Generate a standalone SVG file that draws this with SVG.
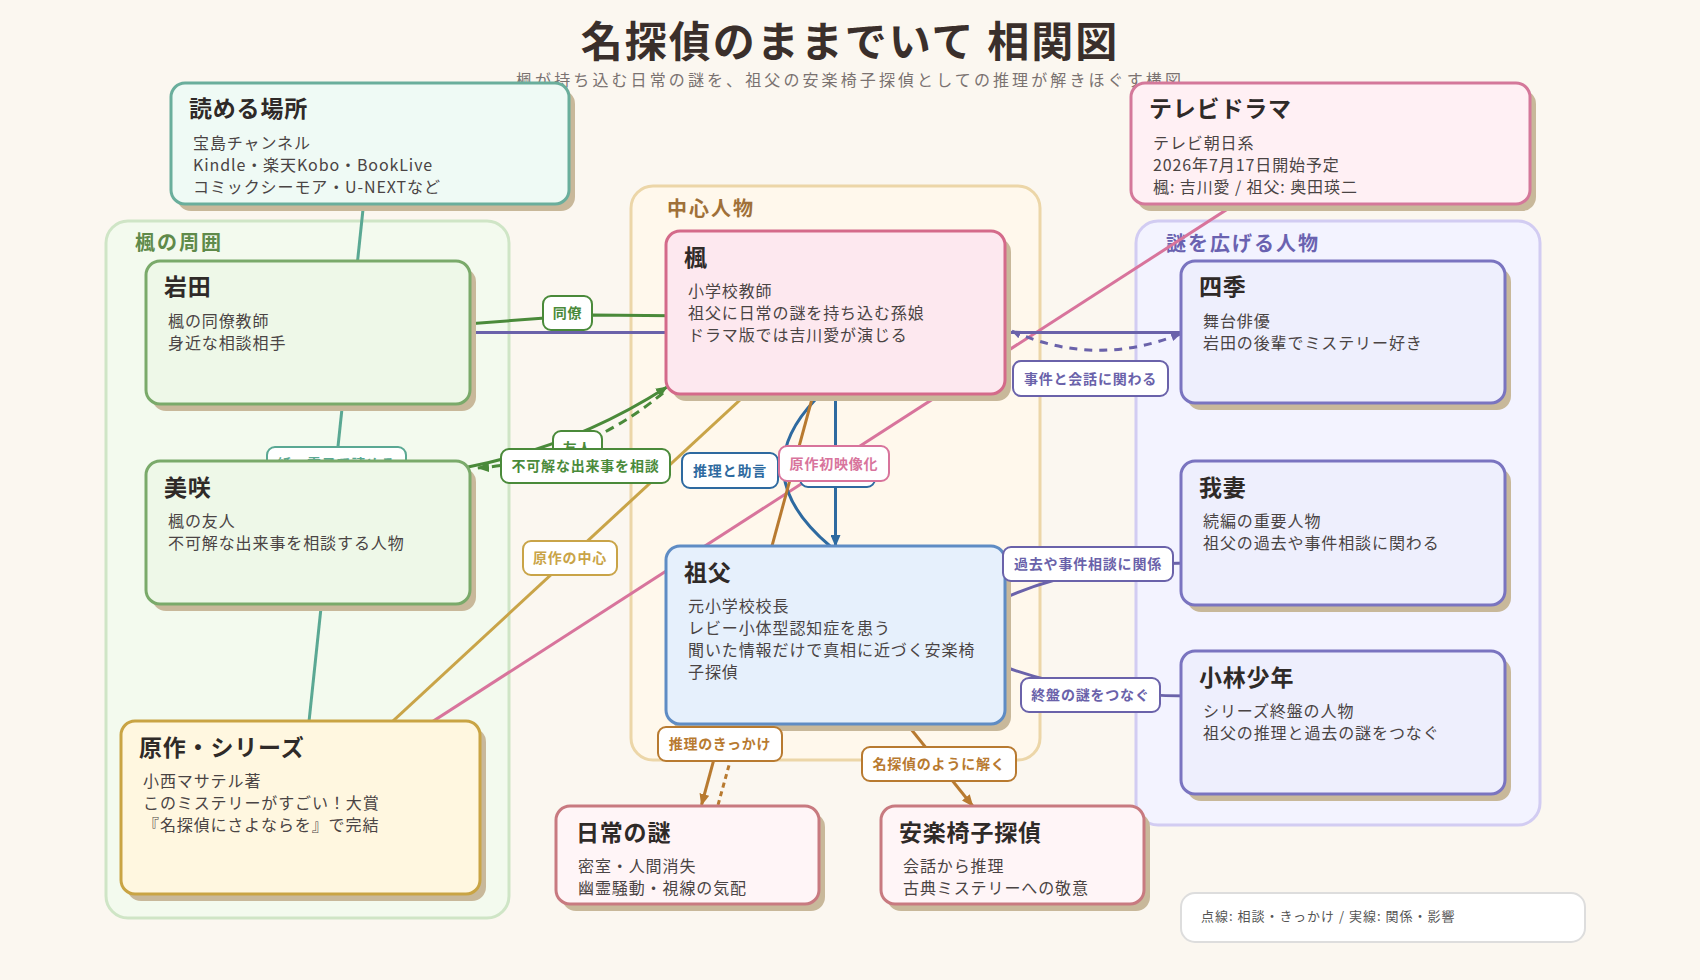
<svg xmlns="http://www.w3.org/2000/svg" width="1700" height="980" viewBox="0 0 1700 980">
<defs>
<style>
text{font-family:"Noto Sans CJK JP","Noto Sans",sans-serif}
.sh{fill:#c8b89a}
.nt{font-size:23px;font-weight:bold;letter-spacing:0.8px;fill:#2f2a28}
.nb{font-size:16px;letter-spacing:0.9px;fill:#4a4444}
.gl{font-size:20px;font-weight:bold;letter-spacing:2px}
.lb{font-size:14px;font-weight:bold;letter-spacing:0.8px;text-anchor:middle}
.lr{fill:#ffffff;stroke-width:2}
.e{fill:none;stroke-width:3}
</style>
<marker id="mg" viewBox="0 0 12 10" refX="11" refY="5" markerWidth="12" markerHeight="10" markerUnits="userSpaceOnUse" orient="auto"><path d="M0,0 L12,5 L0,10 z" fill="#4a8a3a"/></marker>
<marker id="mb" viewBox="0 0 12 10" refX="11" refY="5" markerWidth="12" markerHeight="10" markerUnits="userSpaceOnUse" orient="auto"><path d="M0,0 L12,5 L0,10 z" fill="#2e6aa0"/></marker>
<marker id="mo" viewBox="0 0 12 10" refX="11" refY="5" markerWidth="12" markerHeight="10" markerUnits="userSpaceOnUse" orient="auto"><path d="M0,0 L12,5 L0,10 z" fill="#b87a30"/></marker>
<marker id="mp" viewBox="0 0 12 10" refX="11" refY="5" markerWidth="10" markerHeight="8" markerUnits="userSpaceOnUse" orient="auto-start-reverse"><path d="M0,0 L12,5 L0,10 z" fill="#6a62aa"/></marker>
</defs>
<rect x="0" y="0" width="1700" height="980" fill="#fbf7f0"/>
<text x="850" y="57" text-anchor="middle" font-size="42" font-weight="bold" letter-spacing="2" fill="#3a2f2b">名探偵のままでいて 相関図</text>
<text x="850" y="86" text-anchor="middle" font-size="16" letter-spacing="3.1" fill="#7a7270">楓が持ち込む日常の謎を、祖父の安楽椅子探偵としての推理が解きほぐす構図</text>

<g id="group-kaede-around">
<rect x="106" y="221" width="403" height="697" rx="22" fill="#f3faee" stroke="#cfe5c6" stroke-width="3"/>
<text class="gl" x="135" y="250" fill="#5f8a4a">楓の周囲</text>
</g>
<g id="group-center">
<rect x="631" y="186" width="409" height="574" rx="22" fill="#fff8ec" stroke="#ecd6a8" stroke-width="3"/>
<text class="gl" x="667" y="215.5" fill="#a07038">中心人物</text>
</g>
<g id="group-mystery">
<rect x="1136" y="221" width="404" height="604" rx="22" fill="#f3f3ff" stroke="#d2ccf2" stroke-width="3"/>
<text class="gl" x="1166" y="250.5" fill="#6a62b0">謎を広げる人物</text>
</g>

<g id="connectors">
<path class="e" d="M370,143 L300,807" stroke="#5aa893"/>
<path class="e" d="M440,326 L545,318 L592,315 L700,316" stroke="#4a8a3a"/>
<path class="e" d="M468,467 Q575,446 667,387" stroke="#4a8a3a" marker-end="url(#mg)"/>
<path class="e" d="M663,393 Q582,460 478,468" stroke="#4a8a3a" stroke-dasharray="9 6" marker-end="url(#mg)"/>
<path class="e" d="M300,807 L835,312" stroke="#c9a448"/>
<path class="e" d="M1330,143 L300,807" stroke="#d8749c"/>
<path class="e" d="M308,332.5 L1181,332.5" stroke="#6a62aa"/>
<path class="e" d="M1012,331 Q1095,368 1180,334" stroke="#6a62aa" stroke-dasharray="8 7" marker-end="url(#mp)" marker-start="url(#mp)"/>
<path class="e" d="M835.5,394 L835.5,546" stroke="#2e6aa0" marker-end="url(#mb)"/>
<path class="e" d="M815,400 Q745,474 830,546" stroke="#2e6aa0"/>
<path class="e" d="M835.5,312.5 L701.5,805" stroke="#b87a30" marker-end="url(#mo)"/>
<path class="e" d="M741,722 L718,805" stroke="#b87a30" stroke-dasharray="5 4"/>
<path class="e" d="M835.5,635 L972.7,806" stroke="#b87a30" marker-end="url(#mo)"/>
<path class="e" d="M1000,600 Q1080,563 1190,563" stroke="#6a62aa"/>
<path class="e" d="M1000,665 Q1080,696 1190,696" stroke="#6a62aa"/>
<g id="label-read">
<rect class="lr" x="267" y="447" width="139" height="34" rx="8" stroke="#5aa893"/>
<text class="lb" x="336.5" y="469" fill="#5aa893">紙・電子で読める</text>
</g>
</g>

<g id="node-yomeru">
<rect class="sh" x="177" y="90" width="398" height="121" rx="14"/>
<rect x="171" y="83" width="398" height="121" rx="14" fill="#effaf5" stroke="#6aae9c" stroke-width="3"/>
<text class="nt" x="189" y="117">読める場所</text>
<text class="nb" x="193" y="148.5">宝島チャンネル</text>
<text class="nb" x="193" y="170.5">Kindle・楽天Kobo・BookLive</text>
<text class="nb" x="193" y="192.5">コミックシーモア・U-NEXTなど</text>
</g>
<g id="node-tvdrama">
<rect class="sh" x="1137" y="90" width="399" height="121" rx="14"/>
<rect x="1131" y="83" width="399" height="121" rx="14" fill="#fff0f4" stroke="#d4789a" stroke-width="3"/>
<text class="nt" x="1149" y="117">テレビドラマ</text>
<text class="nb" x="1153" y="148.5">テレビ朝日系</text>
<text class="nb" x="1153" y="170.5">2026年7月17日開始予定</text>
<text class="nb" x="1153" y="192.5">楓: 吉川愛 / 祖父: 奥田瑛二</text>
</g>
<g id="node-iwata">
<rect class="sh" x="152" y="268" width="324" height="143" rx="14"/>
<rect x="146" y="261" width="324" height="143" rx="14" fill="#eef8e8" stroke="#7aaa6a" stroke-width="3"/>
<text class="nt" x="164" y="295">岩田</text>
<text class="nb" x="168" y="327">楓の同僚教師</text>
<text class="nb" x="168" y="349">身近な相談相手</text>
</g>
<g id="node-misaki">
<rect class="sh" x="152" y="468" width="324" height="143" rx="14"/>
<rect x="146" y="461" width="324" height="143" rx="14" fill="#eef8e8" stroke="#7aaa6a" stroke-width="3"/>
<text class="nt" x="164" y="495.5">美咲</text>
<text class="nb" x="168" y="527">楓の友人</text>
<text class="nb" x="168" y="549">不可解な出来事を相談する人物</text>
</g>
<g id="node-gensaku">
<rect class="sh" x="127" y="728" width="359" height="173" rx="14"/>
<rect x="121" y="721" width="359" height="173" rx="14" fill="#fff7e0" stroke="#c9a444" stroke-width="3"/>
<text class="nt" x="139" y="755.5">原作・シリーズ</text>
<text class="nb" x="143" y="787">小西マサテル著</text>
<text class="nb" x="143" y="809">このミステリーがすごい！大賞</text>
<text class="nb" x="143" y="831">『名探偵にさよならを』で完結</text>
</g>
<g id="node-kaede">
<rect class="sh" x="672" y="238" width="339" height="163" rx="14"/>
<rect x="666" y="231" width="339" height="163" rx="14" fill="#fde8ef" stroke="#d46a8a" stroke-width="3"/>
<text class="nt" x="684" y="266">楓</text>
<text class="nb" x="688" y="297">小学校教師</text>
<text class="nb" x="688" y="319">祖父に日常の謎を持ち込む孫娘</text>
<text class="nb" x="688" y="341">ドラマ版では吉川愛が演じる</text>
</g>
<g id="node-sofu">
<rect class="sh" x="672" y="553" width="339" height="178" rx="14"/>
<rect x="666" y="546" width="339" height="178" rx="14" fill="#e6f0fc" stroke="#5f8cc4" stroke-width="3"/>
<text class="nt" x="684" y="581">祖父</text>
<text class="nb" x="688" y="612">元小学校校長</text>
<text class="nb" x="688" y="634">レビー小体型認知症を患う</text>
<text class="nb" x="688" y="656">聞いた情報だけで真相に近づく安楽椅</text>
<text class="nb" x="688" y="678">子探偵</text>
</g>
<g id="node-nichijou">
<rect class="sh" x="562" y="813" width="263" height="98" rx="14"/>
<rect x="556" y="806" width="263" height="98" rx="14" fill="#fff5f7" stroke="#c87a80" stroke-width="3"/>
<text class="nt" x="576" y="841">日常の謎</text>
<text class="nb" x="578" y="872">密室・人間消失</text>
<text class="nb" x="578" y="894">幽霊騒動・視線の気配</text>
</g>
<g id="node-anraku">
<rect class="sh" x="887" y="813" width="263" height="98" rx="14"/>
<rect x="881" y="806" width="263" height="98" rx="14" fill="#fff5f7" stroke="#c87a80" stroke-width="3"/>
<text class="nt" x="899" y="841">安楽椅子探偵</text>
<text class="nb" x="903" y="872">会話から推理</text>
<text class="nb" x="903" y="894">古典ミステリーへの敬意</text>
</g>
<g id="node-shiki">
<rect class="sh" x="1187" y="268" width="324" height="142" rx="14"/>
<rect x="1181" y="261" width="324" height="142" rx="14" fill="#eeeffd" stroke="#7a74c0" stroke-width="3"/>
<text class="nt" x="1199" y="294.5">四季</text>
<text class="nb" x="1203" y="327">舞台俳優</text>
<text class="nb" x="1203" y="349">岩田の後輩でミステリー好き</text>
</g>
<g id="node-wagatsuma">
<rect class="sh" x="1187" y="468" width="324" height="144" rx="14"/>
<rect x="1181" y="461" width="324" height="144" rx="14" fill="#eeeffd" stroke="#7a74c0" stroke-width="3"/>
<text class="nt" x="1199" y="496">我妻</text>
<text class="nb" x="1203" y="527">続編の重要人物</text>
<text class="nb" x="1203" y="549">祖父の過去や事件相談に関わる</text>
</g>
<g id="node-kobayashi">
<rect class="sh" x="1187" y="658" width="324" height="143" rx="14"/>
<rect x="1181" y="651" width="324" height="143" rx="14" fill="#eeeffd" stroke="#7a74c0" stroke-width="3"/>
<text class="nt" x="1199" y="686">小林少年</text>
<text class="nb" x="1203" y="717">シリーズ終盤の人物</text>
<text class="nb" x="1203" y="739">祖父の推理と過去の謎をつなぐ</text>
</g>

<g id="edge-labels">
<rect class="lr" x="543" y="296" width="49" height="34" rx="8" stroke="#4a8a3a"/>
<text class="lb" x="567.5" y="318" fill="#4a8a3a">同僚</text>
<rect class="lr" x="553" y="431" width="49" height="34" rx="8" stroke="#4a8a3a"/>
<text class="lb" x="577.5" y="453" fill="#4a8a3a">友人</text>
<rect class="lr" x="501" y="449" width="169" height="34" rx="8" stroke="#4a8a3a"/>
<text class="lb" x="585.5" y="471" fill="#4a8a3a">不可解な出来事を相談</text>
<rect class="lr" x="523" y="541" width="94" height="34" rx="8" stroke="#c9a448"/>
<text class="lb" x="570" y="563" fill="#c9a448">原作の中心</text>
<rect class="lr" x="682" y="453" width="96" height="35" rx="8" stroke="#2e6aa0"/>
<text class="lb" x="730" y="475.5" fill="#2e6aa0">推理と助言</text>
<rect class="lr" x="800" y="452" width="75" height="35" rx="8" stroke="#2e6aa0"/>
<rect class="lr" x="779" y="446" width="110" height="35" rx="8" stroke="#d8749c"/>
<text class="lb" x="834" y="468.5" fill="#d8749c">原作初映像化</text>
<rect class="lr" x="1013" y="361" width="155" height="35" rx="8" stroke="#6a62aa"/>
<text class="lb" x="1090.5" y="383.5" fill="#6a62aa">事件と会話に関わる</text>
<rect class="lr" x="1003" y="547" width="170" height="34" rx="8" stroke="#6a62aa"/>
<text class="lb" x="1088" y="569" fill="#6a62aa">過去や事件相談に関係</text>
<rect class="lr" x="1021" y="678" width="139" height="34" rx="8" stroke="#6a62aa"/>
<text class="lb" x="1090.5" y="700" fill="#6a62aa">終盤の謎をつなぐ</text>
<rect class="lr" x="658" y="727" width="124" height="34" rx="8" stroke="#b87a30"/>
<text class="lb" x="720" y="749" fill="#b87a30">推理のきっかけ</text>
<rect class="lr" x="862" y="747" width="154" height="34" rx="8" stroke="#b87a30"/>
<text class="lb" x="939" y="769" fill="#b87a30">名探偵のように解く</text>
</g>

<g id="legend">
<rect x="1181" y="893" width="404" height="49" rx="14" fill="#ffffff" stroke="#dddddd" stroke-width="2"/>
<text x="1201" y="921" font-size="13" letter-spacing="1" fill="#555555">点線: 相談・きっかけ / 実線: 関係・影響</text>
</g>
</svg>
